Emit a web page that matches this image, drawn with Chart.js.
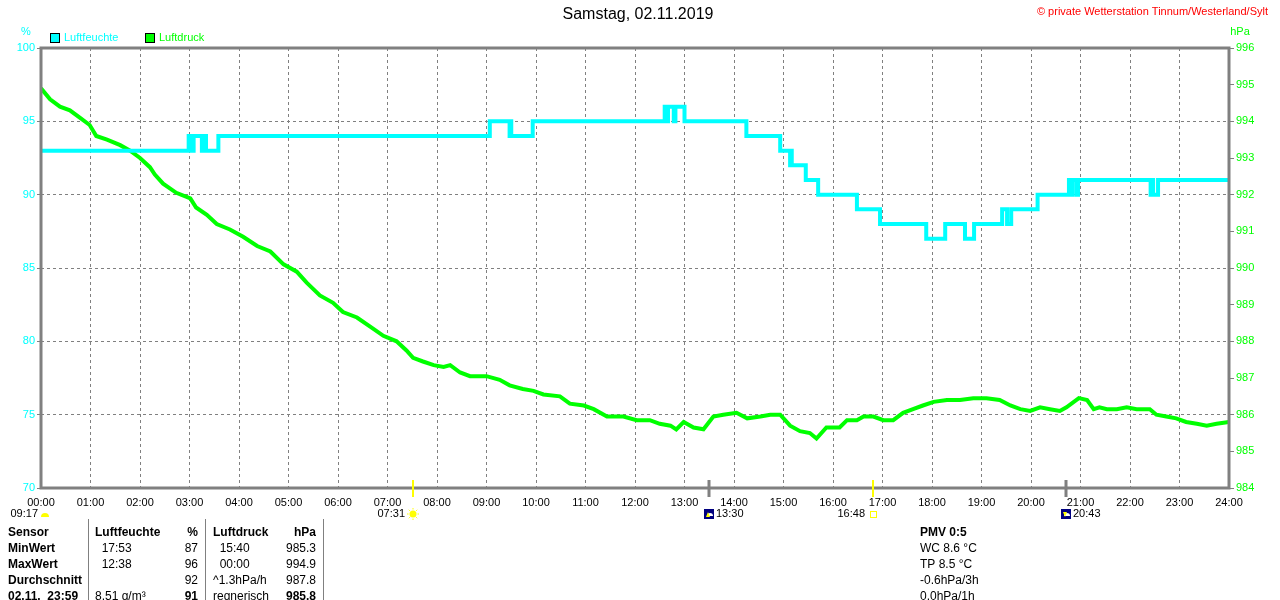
<!DOCTYPE html>
<html>
<head>
<meta charset="utf-8">
<title>Samstag, 02.11.2019</title>
<script src="https://cdn.jsdelivr.net/npm/chart.js@4/dist/chart.umd.min.js"></script>
<style>
  html, body { margin: 0; padding: 0; background: #fff; }
  canvas { display: block; }
</style>
</head>
<body>
<canvas id="wetter-chart" width="1280" height="600"></canvas>
<script>
/* jshint esversion: 6 */
// Tagesgrafik Luftfeuchte / Luftdruck, Wetterstation Tinnum

const TITLE = "Samstag, 02.11.2019";
const COPYRIGHT = "\u00A9 private Wetterstation Tinnum/Westerland/Sylt";

// Luftfeuchte (%), step values: value becomes v at time t
const humTimes = ["00:00","02:59","03:01","03:05","03:15","03:17","03:20","03:35","09:04","09:28","09:29","09:30",
  "09:56","12:36","12:39","12:40","12:47","12:49","13:00","14:15","14:56","15:08","15:09","15:10","15:27","15:42",
  "16:29","16:57","17:53","18:16","18:40","18:51","19:25","19:31","19:36","20:08","20:46","20:49","20:50","20:55",
  "20:57","22:25","22:27","22:28","22:34","24:00"];
const humValues = [93,94,93,94,93,94,93,94,95,94,95,94,
  95,96,95,96,95,96,95,94,93,92,93,92,91,90,
  89,88,87,88,87,88,89,88,89,90,91,90,91,90,
  91,90,91,90,91,91];

// Luftdruck (hPa)
const pressTimes = ["00:00","00:11","00:23","00:35","00:47","00:59","01:07","01:20","01:36","01:48","02:00","02:12",
  "02:18","02:28","02:44","03:01","03:08","03:21","03:33","03:49","04:05","04:22","04:38","04:54","05:10","05:22",
  "05:38","05:54","06:06","06:23","06:39","06:55","07:11","07:23","07:31","07:43","07:56","08:08","08:16","08:28",
  "08:40","09:00","09:16","09:28","09:44","09:57","10:09","10:29","10:41","10:58","11:10","11:26","11:46","12:02",
  "12:18","12:30","12:43","12:50","12:59","13:11","13:23","13:35","13:47","14:03","14:16","14:32","14:44","14:56",
  "15:08","15:20","15:32","15:40","15:52","16:08","16:17","16:29","16:37","16:49","17:01","17:13","17:25","17:37",
  "17:49","18:02","18:18","18:34","18:50","19:06","19:22","19:35","19:47","19:59","20:11","20:23","20:35","20:43",
  "20:58","21:08","21:16","21:23","21:32","21:44","21:56","22:08","22:24","22:32","22:44","22:56","23:08","23:21",
  "23:33","23:45","24:00"];
const pressValues = [994.9,994.6,994.4,994.3,994.1,993.9,993.6,993.5,993.35,993.2,993.0,992.75,
  992.55,992.3,992.05,991.9,991.65,991.45,991.2,991.05,990.85,990.6,990.45,990.1,989.9,989.6,
  989.25,989.05,988.8,988.65,988.4,988.15,988.0,987.75,987.55,987.45,987.35,987.3,987.35,987.15,
  987.05,987.05,986.95,986.8,986.7,986.65,986.55,986.5,986.3,986.25,986.15,985.95,985.95,985.85,
  985.85,985.75,985.7,985.6,985.8,985.65,985.6,985.95,986.0,986.05,985.9,985.95,986.0,986.0,
  985.7,985.55,985.5,985.35,985.65,985.65,985.85,985.85,985.95,985.95,985.85,985.85,986.05,986.15,
  986.25,986.35,986.4,986.4,986.45,986.45,986.4,986.25,986.15,986.1,986.2,986.15,986.1,986.2,
  986.45,986.4,986.15,986.2,986.15,986.15,986.2,986.15,986.15,986.0,985.95,985.9,985.8,985.75,
  985.7,985.75,985.8];

const hourTicks = ["00:00","01:00","02:00","03:00","04:00","05:00","06:00","07:00","08:00","09:00","10:00","11:00",
  "12:00","13:00","14:00","15:00","16:00","17:00","18:00","19:00","20:00","21:00","22:00","23:00","24:00"];

// Sonne / Mond Ereignisse unter der Zeitachse
const dayLength = "09:17";
const eventTimes = ["07:31", "13:30", "16:48", "20:43"];
const eventKinds = ["sunrise", "moonrise", "sunset", "moonset"];

// Tabelle unten
const tableRows = [
  ["Sensor", "Luftfeuchte", "%", "Luftdruck", "hPa"],
  ["MinWert", "  17:53", "87", "  15:40", "985.3"],
  ["MaxWert", "  12:38", "96", "  00:00", "994.9"],
  ["Durchschnitt", "", "92", "^1.3hPa/h", "987.8"],
  ["02.11.  23:59", "8.51 g/m\u00B3", "91", "regnerisch", "985.8"]
];
const pmvLines = ["PMV 0:5", "WC 8.6 \u00B0C", "TP 8.5 \u00B0C", "-0.6hPa/3h", "0.0hPa/1h"];

const CYAN = "#00FFFF", GREEN = "#00FF00", GRID = "#808080";
const FONT = "'Liberation Sans', Arial, sans-serif";

function toHours(s) {
  const p = s.split(":");
  return Number(p[0]) + Number(p[1]) / 60;
}

const humData = humTimes.map((t, i) => ({ x: toHours(t), y: humValues[i] }));
const pressData = pressTimes.map((t, i) => ({ x: toHours(t), y: pressValues[i] }));

/**
 * Everything outside the plot area: title, legend, units, frame,
 * sun/moon markers and the sensor table.
 */
const decorPlugin = {
  id: "decor",
  afterDraw(chart) {
    const ctx = chart.ctx;
    const area = chart.chartArea;
    const xs = chart.scales.x;
    ctx.save();

    // frame
    ctx.strokeStyle = GRID;
    ctx.lineWidth = 3;
    ctx.strokeRect(area.left, area.top, area.right - area.left, area.bottom - area.top);

    // title + copyright
    ctx.fillStyle = "#000";
    ctx.font = "16px " + FONT;
    ctx.textAlign = "center";
    ctx.textBaseline = "middle";
    ctx.fillText(TITLE, 638, 15);
    ctx.fillStyle = "#FF0000";
    ctx.font = "11px " + FONT;
    ctx.textAlign = "right";
    ctx.fillText(COPYRIGHT, 1268, 12);

    // units
    ctx.font = "11px " + FONT;
    ctx.textAlign = "center";
    ctx.fillStyle = CYAN;
    ctx.fillText("%", 26, 32);
    ctx.fillStyle = GREEN;
    ctx.fillText("hPa", 1240, 32);

    // legend
    let lx = 50;
    chart.data.datasets.forEach((ds) => {
      ctx.fillStyle = ds.borderColor;
      ctx.fillRect(lx, 33, 10, 10);
      ctx.strokeStyle = "#000";
      ctx.lineWidth = 1;
      ctx.strokeRect(lx + 0.5, 33.5, 9, 9);
      ctx.textAlign = "left";
      ctx.fillText(ds.label, lx + 14, 38);
      lx += 95;
    });

    // sun / moon markers
    ctx.font = "11px " + FONT;
    ctx.textBaseline = "middle";
    const x0 = xs.getPixelForValue(0);
    ctx.fillStyle = "#000";
    ctx.textAlign = "right";
    ctx.fillText(dayLength, x0 - 3, 514);
    ctx.fillStyle = "#FFFF00";
    ctx.beginPath();
    ctx.arc(x0 + 4, 517, 4, Math.PI, 0);
    ctx.fill();

    eventTimes.forEach((t, i) => {
      const px = Math.round(xs.getPixelForValue(toHours(t)));
      const kind = eventKinds[i];
      const isSun = kind.indexOf("sun") === 0;
      ctx.fillStyle = isSun ? "#FFFF00" : GRID;
      ctx.fillRect(px - (isSun ? 1 : 1.5), 480, isSun ? 2 : 3, 17);
      ctx.fillStyle = "#000";
      if (isSun) {
        ctx.textAlign = "right";
        ctx.fillText(t, px - 8, 514);
        if (kind === "sunrise") {
          ctx.fillStyle = "#FFFF00";
          ctx.beginPath();
          ctx.arc(px, 514, 3.5, 0, Math.PI * 2);
          ctx.fill();
          ctx.strokeStyle = "#FFFF00";
          ctx.lineWidth = 1;
          for (let a = 0; a < 8; a++) {
            const ang = a * Math.PI / 4;
            ctx.beginPath();
            ctx.moveTo(px + Math.cos(ang) * 4.5, 514 + Math.sin(ang) * 4.5);
            ctx.lineTo(px + Math.cos(ang) * 6, 514 + Math.sin(ang) * 6);
            ctx.stroke();
          }
        } else {
          ctx.strokeStyle = "#FFFF00";
          ctx.lineWidth = 1;
          ctx.strokeRect(px - 2.5, 511.5, 6, 6);
        }
      } else {
        ctx.textAlign = "left";
        ctx.fillText(t, px + 7, 514);
        ctx.fillStyle = "#000080";
        ctx.fillRect(px - 5, 509, 10, 10);
        ctx.fillStyle = "#FFFFFF";
        ctx.beginPath();
        ctx.arc(px + 1, 516, 3, Math.PI, 0);
        ctx.fill();
        ctx.fillStyle = "#FFFF00";
        ctx.beginPath();
        if (kind === "moonrise") {
          ctx.moveTo(px - 3, 517); ctx.lineTo(px - 1, 512); ctx.lineTo(px + 1, 517);
        } else {
          ctx.moveTo(px - 3, 512); ctx.lineTo(px - 1, 517); ctx.lineTo(px + 1, 512);
        }
        ctx.fill();
      }
    });

    // table
    const colX = [8, 95, 198, 213, 316];
    const colAlign = ["left", "left", "right", "left", "right"];
    tableRows.forEach((row, r) => {
      const y = 533 + r * 16;
      row.forEach((txt, c) => {
        const bold = r === 0 || c === 0 || (r === tableRows.length - 1 && (c === 2 || c === 4));
        ctx.font = (bold ? "bold 12px " : "12px ") + FONT;
        ctx.fillStyle = "#000";
        ctx.textAlign = colAlign[c];
        ctx.fillText(txt, colX[c], y);
      });
    });
    ctx.strokeStyle = GRID;
    ctx.lineWidth = 1;
    [88.5, 205.5, 323.5].forEach((sx) => {
      ctx.beginPath();
      ctx.moveTo(sx, 519);
      ctx.lineTo(sx, 600);
      ctx.stroke();
    });

    pmvLines.forEach((txt, i) => {
      ctx.font = (i === 0 ? "bold 12px " : "12px ") + FONT;
      ctx.fillStyle = "#000";
      ctx.textAlign = "left";
      ctx.fillText(txt, 920, 533 + i * 16);
    });

    ctx.restore();
  }
};

const ctx = document.getElementById("wetter-chart").getContext("2d");
const chart = new Chart(ctx, {
  type: "line",
  data: {
    datasets: [
      {
        label: "Luftfeuchte",
        data: humData,
        yAxisID: "yH",
        borderColor: CYAN,
        backgroundColor: CYAN,
        borderWidth: 4,
        stepped: "before",
        pointRadius: 0,
        fill: false
      },
      {
        label: "Luftdruck",
        data: pressData,
        yAxisID: "yP",
        borderColor: GREEN,
        backgroundColor: GREEN,
        borderWidth: 4,
        tension: 0,
        pointRadius: 0,
        fill: false
      }
    ]
  },
  options: {
    responsive: false,
    animation: false,
    layout: { padding: { top: 48, left: 0, right: 0, bottom: 0 } },
    plugins: { legend: { display: false }, title: { display: false }, tooltip: { enabled: false } },
    scales: {
      x: {
        type: "linear",
        min: 0,
        max: 24,
        afterFit: (s) => { s.height = 112; },
        afterBuildTicks: (s) => { s.ticks = hourTicks.map((t) => ({ value: toHours(t) })); },
        ticks: {
          callback: (v, i) => hourTicks[i],
          color: "#000",
          font: { family: FONT, size: 11 },
          maxRotation: 0,
          autoSkip: false,
          padding: 8
        },
        grid: { color: GRID, lineWidth: 1, drawTicks: false },
        border: { display: false, dash: [3, 3] }
      },
      yH: {
        position: "left",
        min: 70,
        max: 100,
        afterFit: (s) => { s.width = 41; },
        ticks: { stepSize: 5, color: CYAN, font: { family: FONT, size: 11 }, padding: 2 },
        grid: { color: GRID, lineWidth: 1, tickLength: 4 },
        border: { display: false, dash: [3, 3] }
      },
      yP: {
        position: "right",
        min: 984,
        max: 996,
        afterFit: (s) => { s.width = 51; },
        ticks: { stepSize: 1, color: GREEN, font: { family: FONT, size: 11 }, padding: 2 },
        grid: { color: GRID, lineWidth: 1, drawOnChartArea: false, tickLength: 5 },
        border: { display: false }
      }
    }
  },
  plugins: [decorPlugin]
});
</script>
</body>
</html>
